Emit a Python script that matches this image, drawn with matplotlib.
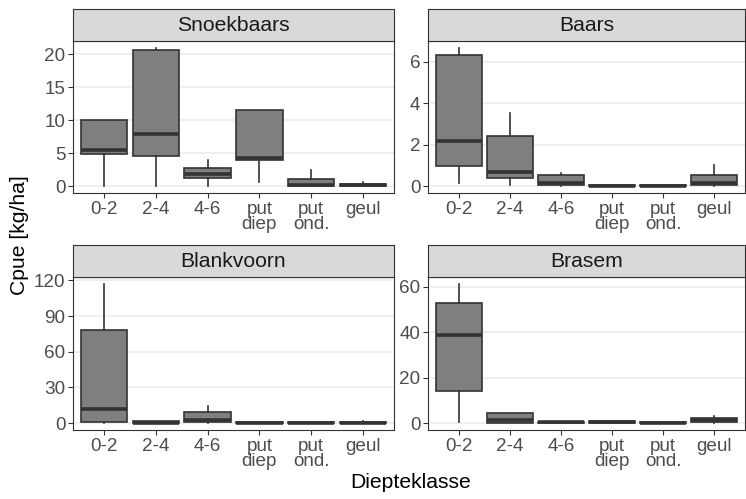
import matplotlib.pyplot as plt
import numpy as np

plt.rcParams['font.family'] = ['Liberation Sans', 'DejaVu Sans']

klassen = ['0-2', '2-4', '4-6', 'put\ndiep', 'put\nond.', 'geul']

# per soort: onderste whisker, Q1, mediaan, Q3, bovenste whisker
snoekbaars_lo = [0.0, 0.0, 0.0, 0.6, 0.0, 0.0]
snoekbaars_q1 = [4.9, 4.6, 1.25, 3.9, 0.0, 0.0]
snoekbaars_med = [5.5, 7.85, 1.9, 4.25, 0.1, 0.15]
snoekbaars_q3 = [10.0, 20.65, 2.75, 11.6, 1.1, 0.35]
snoekbaars_hi = [10.0, 20.95, 4.0, 11.6, 2.4, 0.6]

baars_lo = [0.16, 0.03, 0.0, 0.0, 0.0, 0.0]
baars_q1 = [0.96, 0.41, 0.03, 0.0, 0.0, 0.06]
baars_med = [2.17, 0.69, 0.16, 0.02, 0.01, 0.13]
baars_q3 = [6.32, 2.42, 0.56, 0.05, 0.03, 0.56]
baars_hi = [6.68, 3.54, 0.65, 0.05, 0.03, 1.04]

blankvoorn_lo = [0.0, 0.0, 0.0, 0.0, 0.0, 0.0]
blankvoorn_q1 = [0.8, 0.0, 0.8, 0.0, 0.0, 0.0]
blankvoorn_med = [12.1, 0.3, 2.8, 0.3, 0.2, 0.3]
blankvoorn_q3 = [78.3, 1.4, 9.6, 1.2, 0.8, 1.0]
blankvoorn_hi = [117.0, 1.6, 14.6, 1.2, 0.8, 1.8]

brasem_lo = [0.4, 0.0, 0.0, 0.1, 0.0, 0.0]
brasem_q1 = [14.3, 0.0, 0.0, 0.1, 0.0, 0.5]
brasem_med = [38.7, 1.2, 0.3, 0.4, 0.1, 1.2]
brasem_q3 = [52.8, 4.4, 0.6, 1.0, 0.4, 2.1]
brasem_hi = [61.2, 4.4, 0.6, 1.0, 0.4, 3.1]

panels = [
    ('Snoekbaars', [snoekbaars_lo, snoekbaars_q1, snoekbaars_med, snoekbaars_q3, snoekbaars_hi], [0, 5, 10, 15, 20]),
    ('Baars', [baars_lo, baars_q1, baars_med, baars_q3, baars_hi], [0, 2, 4, 6]),
    ('Blankvoorn', [blankvoorn_lo, blankvoorn_q1, blankvoorn_med, blankvoorn_q3, blankvoorn_hi], [0, 30, 60, 90, 120]),
    ('Brasem', [brasem_lo, brasem_q1, brasem_med, brasem_q3, brasem_hi], [0, 20, 40, 60]),
]

W, H = 746, 499
fig = plt.figure(figsize=(W / 100, H / 100), dpi=100)

# panel rectangles in pixels: (left, right, strip top, plot top, plot bottom)
cols = [(73, 394), (428, 745)]
rows = [(9, 41, 193), (245, 277, 430)]

dark = '#333333'
for i, (naam, stats, ticks) in enumerate(panels):
    x0, x1 = cols[i % 2]
    st, pt, pb = rows[i // 2]
    ax = fig.add_axes([x0 / W, 1 - pb / H, (x1 - x0) / W, (pb - pt) / H])
    lo, q1, med, q3, hi = stats
    bstats = [dict(whislo=lo[k], q1=q1[k], med=med[k], q3=q3[k], whishi=hi[k], fliers=[])
              for k in range(len(klassen))]
    ax.bxp(bstats, positions=np.arange(1, 7), widths=0.9, patch_artist=True, showcaps=False,
           boxprops=dict(facecolor='#7f7f7f', edgecolor=dark, linewidth=1.2),
           whiskerprops=dict(color=dark, linewidth=1.2),
           medianprops=dict(color=dark, linewidth=2.6, solid_capstyle='butt'))
    top = max(hi)
    ax.set_ylim(-0.05 * top, 1.05 * top)
    ax.set_xlim(0.4, 6.6)
    ax.set_yticks(ticks)
    ax.set_xticks(np.arange(1, 7))
    ax.set_xticklabels(klassen, linespacing=0.9, va='top')
    ax.grid(axis='y', color='#ebebeb', linewidth=1.1)
    ax.set_axisbelow(True)
    for s in ax.spines.values():
        s.set_color(dark)
        s.set_linewidth(0.8)
    ax.tick_params(colors=dark, labelcolor='#4d4d4d', labelsize=13.6, length=3.5, width=0.8, pad=2)

    # strip met de soortnaam
    sax = fig.add_axes([x0 / W, 1 - pt / H, (x1 - x0) / W, (pt - st) / H])
    sax.set_facecolor('#d9d9d9')
    sax.set_xticks([])
    sax.set_yticks([])
    for s in sax.spines.values():
        s.set_color(dark)
        s.set_linewidth(0.8)
    sax.text(0.5, 0.47, naam, ha='center', va='center', fontsize=15.2, color='#1a1a1a',
             transform=sax.transAxes)

fig.text(20 / W, 1 - 235 / H, 'Cpue [kg/ha]', rotation=90, ha='center', va='center', fontsize=15.2)
fig.text(411 / W, 1 - 483 / H, 'Diepteklasse', ha='center', va='center', fontsize=15.2)

fig.savefig('out.png', dpi=100)
